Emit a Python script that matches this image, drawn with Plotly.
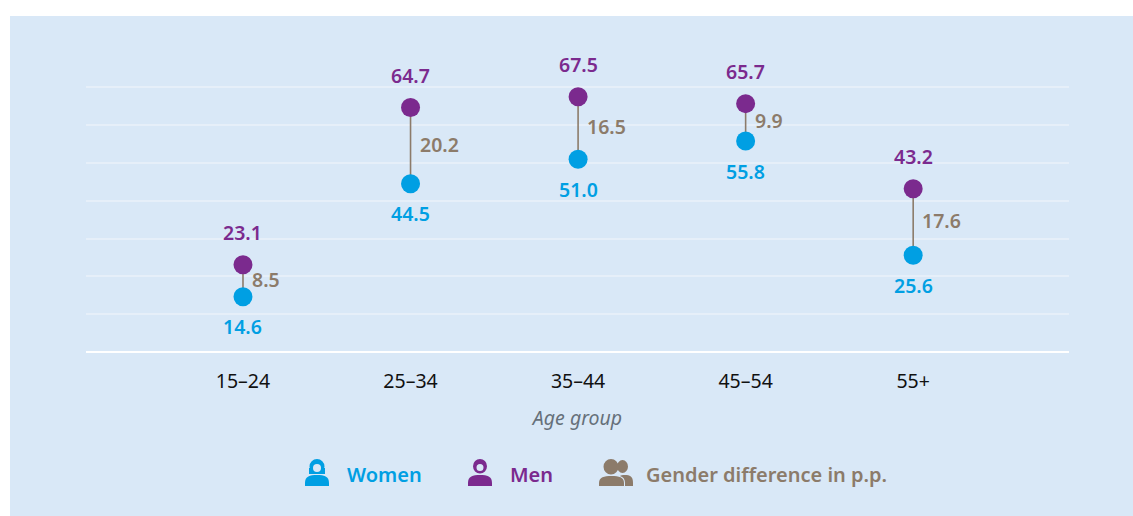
import plotly.graph_objects as go

# ---- data ----
categories = ["15–24", "25–34", "35–44", "45–54", "55+"]
women = [14.6, 44.5, 51.0, 55.8, 25.6]
men = [23.1, 64.7, 67.5, 65.7, 43.2]
differences = [8.5, 20.2, 16.5, 9.9, 17.6]
y_ticks = [0, 10, 20, 30, 40, 50, 60, 70]
legend_names = ["Women", "Men", "Gender difference in p.p."]

# ---- style ----
W, H = 1133, 516
L, R, T, B = 86, 1069, 85, 352
C_W, C_M, C_D = "#009FE3", "#7B2A8E", "#8C7B6A"
PANEL = "#D9E8F7"
FONT = "Noto Sans"


def px(x):
    return (x - L) / (R - L)


def py(y):
    return (B - y) / (B - T)


def paper_shape(kind, x0, y0, x1, y1, color, line=0, fill=True):
    return dict(type=kind, xref="paper", yref="paper", x0=px(x0), x1=px(x1), y0=py(y0), y1=py(y1),
                fillcolor=color if fill else "rgba(0,0,0,0)",
                line=dict(color=color, width=line), layer="above")


def body(x0, x1, top, bot, color):
    k = (x1 - x0) * 0.5
    m = (x0 + x1) / 2
    path = (f"M {px(x0)} {py(bot)} L {px(x0)} {py(bot-3)} "
            f"C {px(x0)} {py(top+1)} {px(m-k*0.6)} {py(top)} {px(m)} {py(top)} "
            f"C {px(m+k*0.6)} {py(top)} {px(x1)} {py(top+1)} {px(x1)} {py(bot-3)} "
            f"L {px(x1)} {py(bot)} Z")
    return dict(type="path", xref="paper", yref="paper", path=path, fillcolor=color,
                line=dict(width=0), layer="above")


fig = go.Figure()

for i, cat in enumerate(categories):
    fig.add_trace(go.Scatter(x=[cat, cat], y=[women[i], men[i]], mode="lines",
                             line=dict(color=C_D, width=1.6), showlegend=False, hoverinfo="skip",
                             cliponaxis=False))
fig.add_trace(go.Scatter(x=categories, y=women, mode="markers", name=legend_names[0],
                         marker=dict(color=C_W, size=19), showlegend=False, cliponaxis=False))
fig.add_trace(go.Scatter(x=categories, y=men, mode="markers", name=legend_names[1],
                         marker=dict(color=C_M, size=19), showlegend=False, cliponaxis=False))

ann = []
for i, cat in enumerate(categories):
    lab = dict(xref="x", yref="y", x=cat, showarrow=False)
    ann.append({**lab, "y": men[i], "yshift": 32, "text": f"{men[i]:.1f}",
                "font": dict(family=FONT, size=19.5, color=C_M, weight=600)})
    ann.append({**lab, "y": women[i], "yshift": -30, "text": f"{women[i]:.1f}",
                "font": dict(family=FONT, size=19.5, color=C_W, weight=600)})
    ann.append({**lab, "y": (men[i] + women[i]) / 2, "xanchor": "left", "xshift": 7, "yshift": 1.5,
                "text": f"{differences[i]:.1f}",
                "font": dict(family=FONT, size=19.5, color=C_D, weight=600)})

for name, x, col in zip(legend_names, [345, 508, 644], [C_W, C_M, C_D]):
    ann.append(dict(xref="paper", yref="paper", x=px(x), y=py(474.5), xanchor="left", yanchor="middle",
                    showarrow=False, text=name, font=dict(family=FONT, size=20, color=col, weight=600)))

shapes = [
    dict(type="rect", xref="paper", yref="paper", x0=px(10), x1=px(W), y0=py(16), y1=py(H),
         fillcolor=PANEL, line=dict(width=0), layer="below"),
    # woman icon
    body(305, 329, 475, 486, C_W),
    paper_shape("rect", 309, 468, 325, 474, C_W),
    paper_shape("circle", 309.5, 459, 324.5, 474, C_W),
    paper_shape("circle", 313, 464, 321, 472, PANEL),
    # man icon
    body(468, 492, 475, 486, C_M),
    paper_shape("circle", 473, 459, 487, 473.5, C_M),
    paper_shape("circle", 476.5, 464, 483.5, 471, PANEL),
    # group icon
    paper_shape("circle", 617, 460, 628, 473, C_D),
    body(617, 633, 475, 486, C_D),
    paper_shape("circle", 603.5, 459, 618.5, 474.5, C_D),
    body(597, 625, 475, 486, PANEL),
    body(599, 624, 476, 486, C_D),
]

fig.update_layout(
    width=W, height=H,
    margin=dict(l=L, r=W - R, t=T, b=H - B, pad=0, autoexpand=False),
    paper_bgcolor="white", plot_bgcolor="rgba(0,0,0,0)",
    font=dict(family=FONT, size=18, color="black"),
    showlegend=False, hovermode=False,
    shapes=shapes, annotations=ann,
    xaxis=dict(type="category", categoryorder="array", categoryarray=categories,
               range=[-0.937, 4.93], showgrid=False, zeroline=False, showline=False,
               ticks="outside", ticklen=12, tickcolor="rgba(0,0,0,0)",
               tickfont=dict(family=FONT, size=19.5, color="#111111"),
               title=dict(text="<i>Age group</i>", standoff=17,
                          font=dict(family=FONT, size=19.5, color="#66707A"))),
    yaxis=dict(range=[0, 70.63], tickvals=y_ticks, showticklabels=False, ticks="",
               showgrid=True, gridcolor="#E6EFF9", gridwidth=1.5,
               zeroline=True, zerolinecolor="white", zerolinewidth=2, showline=False),
)

fig.write_html("out.html", post_script="document.body.style.margin='0';",
               config={"displayModeBar": False})
